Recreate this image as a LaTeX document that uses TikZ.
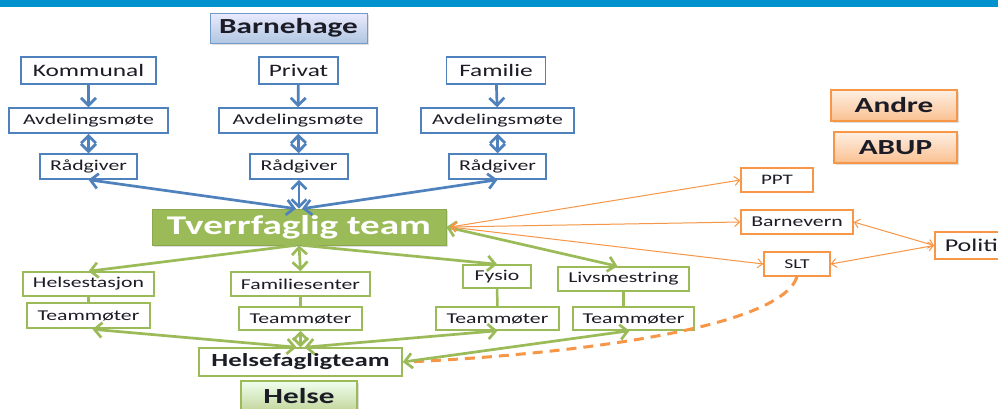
\documentclass[tikz,border=0pt]{standalone}
\usepackage{fontspec}
\setmainfont{Carlito}[FakeStretch=1.45]
\usetikzlibrary{arrows.meta,shadows,shadings}
\definecolor{bandblue}{RGB}{0,146,206}
\definecolor{ablue}{RGB}{79,129,189}
\definecolor{agreen}{RGB}{155,187,89}
\definecolor{aorange}{RGB}{247,150,70}
\definecolor{txt}{RGB}{28,28,38}
\newcommand\fsz[1]{\fontsize{#1}{#1}\selectfont}
\tikzset{
  bt/.tip={Straight Barb[length=7.5pt,width=15pt,line width=2.7pt]},
  ot/.tip={Straight Barb[length=5pt,width=9pt,line width=1pt]},
}
\begin{document}
\begin{tikzpicture}[x=1pt,y=-1pt,
  box/.style={rectangle, inner sep=0pt, line width=1.5pt, fill=white, text=txt},
  bluebox/.style={box, draw=ablue},
  greenbox/.style={box, draw=agreen},
  orangebox/.style={box, draw=aorange},
  shad/.style={drop shadow={shadow xshift=1.5pt, shadow yshift=-1.5pt, opacity=0.25}},
  blueconn/.style={draw=ablue, line width=2.7pt},
  greenconn/.style={draw=agreen, line width=2.7pt},
  orangeconn/.style={draw=aorange, line width=1pt},
]
\useasboundingbox (0,0) rectangle (998,408);
\clip (0,0) rectangle (998,408);
\fill[white] (0,0) rectangle (998,408);
\fill[bandblue] (0,0) rectangle (998,7);

% Barnehage group
\node[box, draw=ablue!80, line width=1pt, top color=blue!8!white, bottom color=ablue!45!white, shad,
  minimum width=157, minimum height=30, font=\bfseries\fsz{21.5}] (bh) at (288.5,28) {Barnehage};
\node[bluebox, minimum width=135, minimum height=27, font=\fsz{17.5}] (kom) at (88.5,70.5) {Kommunal};
\node[bluebox, minimum width=79, minimum height=27, font=\fsz{17.5}] (pri) at (298.5,70.5) {Privat};
\node[bluebox, minimum width=99, minimum height=27, font=\fsz{17.5}] (fam) at (496,70.5) {Familie};
\node[bluebox, minimum width=159, minimum height=25, font=\fsz{15}] (av1) at (88.5,120.5) {Avdelingsmøte};
\node[bluebox, minimum width=158, minimum height=25, font=\fsz{15}] (av2) at (298,120.5) {Avdelingsmøte};
\node[bluebox, minimum width=153, minimum height=25, font=\fsz{15}] (av3) at (497.5,120.5) {Avdelingsmøte};
\node[bluebox, minimum width=97, minimum height=25, font=\fsz{15}] (rg1) at (88.5,166.5) {Rådgiver};
\node[bluebox, minimum width=98, minimum height=25, font=\fsz{15}] (rg2) at (299,166.5) {Rådgiver};
\node[bluebox, minimum width=97, minimum height=25, font=\fsz{15}] (rg3) at (497.5,166.5) {Rådgiver};

% Tverrfaglig team
\node[rectangle, inner sep=0pt, fill=agreen, draw=agreen!90!black, line width=0.6pt, shad, text=white,
  minimum width=294, minimum height=36, font=\bfseries\fsz{27}] (tt) at (299,227) {Tverrfaglig team};

% Helse group
\node[greenbox, minimum width=131, minimum height=24, font=\fsz{15}] (hs) at (88.5,284) {Helsestasjon};
\node[greenbox, line width=2.5pt, minimum width=123, minimum height=25, font=\fsz{15}] (tm1) at (88.5,315.5) {Teammøter};
\node[greenbox, minimum width=139, minimum height=24, font=\fsz{15}] (fs) at (300.5,284) {Familiesenter};
\node[greenbox, minimum width=123, minimum height=23, font=\fsz{15}] (tm2) at (300.5,318.5) {Teammøter};
\node[greenbox, minimum width=68, minimum height=23, font=\fsz{15}] (fy) at (497,276.5) {Fysio};
\node[greenbox, minimum width=123, minimum height=23, font=\fsz{15}] (tm3) at (497.5,318.5) {Teammøter};
\node[greenbox, minimum width=131, minimum height=24, font=\fsz{15}] (lm) at (623.5,279) {Livsmestring};
\node[greenbox, minimum width=121, minimum height=23, font=\fsz{15}] (tm4) at (633.5,318.5) {Teammøter};
\node[greenbox, minimum width=203, minimum height=28, font=\bfseries\fsz{18.5}] (hft) at (300.5,362) {Helsefagligteam};
\node[box, draw=agreen, line width=1.5pt, top color=green!6!white, bottom color=agreen!60!white, shad,
  minimum width=116, minimum height=30, font=\bfseries\fsz{21.5}] (hel) at (299,396) {Helse};

% Andre group
\node[box, draw=aorange, line width=1.5pt, top color=aorange!15!white, bottom color=aorange!60!white, shad,
  minimum width=126, minimum height=31, font=\bfseries\fsz{21.5}] (andre) at (894,105.5) {Andre};
\node[box, draw=aorange, line width=1.5pt, top color=aorange!15!white, bottom color=aorange!60!white, shad,
  minimum width=123, minimum height=31, font=\bfseries\fsz{21.5}] (abup) at (895.5,147.5) {ABUP};
\node[orangebox, minimum width=72, minimum height=24, font=\fsz{14.5}] (ppt) at (777,180) {PPT};
\node[orangebox, minimum width=112, minimum height=24, font=\fsz{15}] (bv) at (797,222) {Barnevern};
\node[orangebox, minimum width=66, minimum height=24, font=\fsz{13.5}] (slt) at (797,264) {SLT};
\node[orangebox, anchor=west, minimum width=100, minimum height=27, inner xsep=9pt, align=left,
  text width=80, font=\fsz{18}] (pol) at (934,245.5) {Politi};

% blue connectors
\draw[blueconn, -{bt}] (kom) -- (av1);
\draw[blueconn, -{bt}] (pri) -- (av2);
\draw[blueconn, -{bt}] (fam) -- (av3);
\draw[blueconn, {bt}-{bt}] (av1) -- (rg1);
\draw[blueconn, {bt}-{bt}] (av2) -- (rg2);
\draw[blueconn, {bt}-{bt}] (av3) -- (rg3);
\draw[blueconn, {bt}-{bt}] (rg1.south) -- ([xshift=-3pt]tt.north);
\draw[blueconn, {bt}-{bt}] (rg2.south) -- (tt.north);
\draw[blueconn, {bt}-{bt}] (rg3.south) -- ([xshift=3pt]tt.north);

% green connectors
\draw[greenconn, -{bt}] ([xshift=-3pt]tt.south) -- (hs.north);
\draw[greenconn, {bt}-{bt}] (tt.south) -- (fs.north);
\draw[greenconn, -{bt}] ([xshift=3pt]tt.south) -- (fy.north);
\draw[greenconn, {bt}-{bt}] (tt.east) -- ([xshift=-6pt]lm.north);
\draw[draw=agreen, line width=2.5pt] (hs) -- (tm1);
\draw[draw=agreen, line width=2.5pt] (fs) -- (tm2);
\draw[draw=agreen, line width=2.5pt] (fy) -- (tm3);
\draw[draw=agreen, line width=2.5pt] (lm) -- ([xshift=-10pt]tm4.north);
\draw[greenconn, {bt}-{bt}] ([xshift=4pt]tm1.south) -- ([xshift=-4pt]hft.north);
\draw[greenconn, {bt}-{bt}] (tm2) -- (hft);
\draw[greenconn, {bt}-{bt}] (tm3.south) -- ([xshift=4pt]hft.north);

% orange connectors
\draw[orangeconn, {ot}-{ot}] ([xshift=4pt]tt.east) -- (ppt.west);
\draw[orangeconn, {ot}-{ot}] ([xshift=4pt]tt.east) -- (bv.west);
\draw[orangeconn, {ot}-{ot}] ([xshift=4pt]tt.east) -- (slt.west);
\draw[orangeconn, {ot}-{ot}] (bv.east) -- (pol.west);
\draw[orangeconn, {ot}-{ot}] (slt.east) -- (pol.west);
\draw[draw=aorange, line width=3pt, dash pattern=on 10pt off 7pt]
  (slt.south) .. controls (780,330) and (560,355) .. ([xshift=4pt]hft.east);
\draw[greenconn, {bt}-{bt}] (hft.east) -- ([xshift=-4pt]tm4.south);
\end{tikzpicture}
\end{document}
